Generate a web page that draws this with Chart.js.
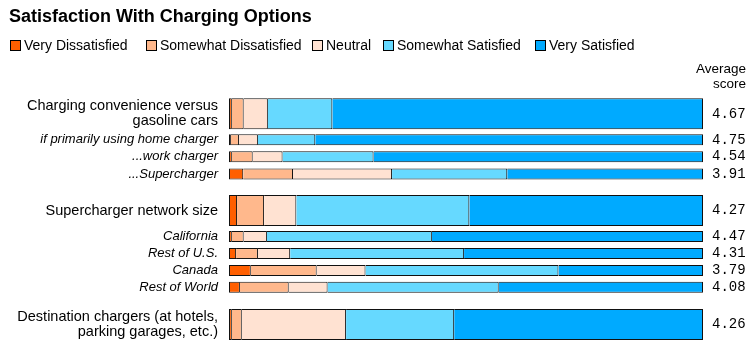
<!DOCTYPE html>
<html>
<head>
<meta charset="utf-8">
<script src="https://cdn.jsdelivr.net/npm/chart.js@4"></script>
<style>
  body{margin:0;background:#fff;font-family:"Liberation Sans",Arial,sans-serif;color:#000}
  #wrap{position:relative;width:752px;height:349px}
  canvas{position:absolute;left:0;top:0}
  .title{position:absolute;left:9px;top:7px;font-size:18px;font-weight:bold;line-height:18px;white-space:nowrap}
  .leg{position:absolute;top:38px;height:14px;display:flex;align-items:center;font-size:14px;line-height:14px;white-space:nowrap}
  .leg i{display:inline-block;width:9px;height:9px;border:1px solid #000;margin-right:3px}
  .avg{position:absolute;right:6px;top:61px;font-size:13.5px;line-height:15px;text-align:right}
</style>
</head>
<body>
<div id="wrap">
  <canvas id="chart" width="752" height="349"></canvas>
  <div class="title">Satisfaction With Charging Options</div>
  <div id="legend"></div>
  <div class="avg">Average<br>score</div>
</div>
<script>
const categories = [
  ['Charging convenience versus', 'gasoline cars'],
  'if primarily using home charger',
  '...work charger',
  '...Supercharger',
  'Supercharger network size',
  'California',
  'Rest of U.S.',
  'Canada',
  'Rest of World',
  ['Destination chargers (at hotels,', 'parking garages, etc.)']
];
// sub-rows (italic, thin bars) vs headline rows
const isBreakdown = [false, true, true, true, false, true, true, true, true, false];

const seriesNames = ['Very Dissatisfied', 'Somewhat Dissatisfied', 'Neutral', 'Somewhat Satisfied', 'Very Satisfied'];
const veryDissatisfied     = [0.6, 0.4, 0.6, 3.0, 1.7, 0.6, 1.5, 4.6, 2.3, 0.6];
const somewhatDissatisfied = [2.5, 1.7, 4.4, 10.5, 5.7, 2.5, 4.6, 13.9, 10.3, 2.1];
const neutral              = [5.1, 4.0, 6.3, 20.9, 6.8, 4.9, 6.8, 10.3, 8.2, 22.0];
const somewhatSatisfied    = [13.6, 12.1, 19.2, 24.3, 36.5, 34.8, 36.7, 40.7, 36.1, 22.8];
const verySatisfied        = [78.2, 81.8, 69.5, 41.3, 49.3, 57.2, 50.4, 30.5, 43.1, 52.5];
const averageScore = [4.67, 4.75, 4.54, 3.91, 4.27, 4.47, 4.31, 3.79, 4.08, 4.26];

// layout: vertical slot of each row (units of one sub-row pitch)
const rowSlot = [0, 1.53, 2.52, 3.54, 5.69, 7.22, 8.22, 9.22, 10.21, 12.39];
const colors = ['#ff5f00', '#ffb88c', '#ffe2d2', '#66d9ff', '#00aaff'];
const legendLeft = [10, 146, 312, 383, 535];
const FONT = '"Liberation Sans", Arial, sans-serif';

const series = [veryDissatisfied, somewhatDissatisfied, neutral, somewhatSatisfied, verySatisfied];

document.getElementById('legend').innerHTML = seriesNames.map((n, i) =>
  `<div class="leg" style="left:${legendLeft[i]}px"><i style="background:${colors[i]}"></i>${n}</div>`).join('');

const datasets = [];
[false, true].forEach(sub => {
  series.forEach((vals, k) => {
    datasets.push({
      label: seriesNames[k],
      data: vals.map((v, i) => ({x: v, y: rowSlot[i], sub: isBreakdown[i]})).filter(d => d.sub === sub),
      backgroundColor: colors[k],
      borderColor: '#111',
      borderWidth: {top: 1, bottom: 1, right: 1, left: k === 0 ? 1 : 0},
      borderSkipped: false,
      inflateAmount: 0,
      barThickness: sub ? 11 : 31,
      grouped: false,
      stack: sub ? 'sub' : 'main'
    });
  });
});

const rowTicks = s => { s.ticks = rowSlot.map(v => ({value: v})); };

new Chart(document.getElementById('chart'), {
  type: 'bar',
  data: {datasets},
  options: {
    indexAxis: 'y',
    responsive: false,
    animation: false,
    devicePixelRatio: 1,
    layout: {padding: {top: 90, left: 0, right: 0, bottom: 0}},
    plugins: {legend: {display: false}, title: {display: false}, tooltip: {enabled: false}},
    scales: {
      x: {type: 'linear', stacked: true, min: 0, max: 100, display: false},
      y: {
        type: 'linear', position: 'left', reverse: true, min: -1.4, max: 13.835, offset: false,
        grid: {display: false, drawTicks: false}, border: {display: false},
        afterBuildTicks: rowTicks,
        afterFit: s => { s.width = 229; s.paddingTop = 0; s.paddingBottom = 0; },
        ticks: {
          autoSkip: false, padding: 11, color: '#000',
          callback: (v, i) => categories[i],
          font: c => isBreakdown[c.index]
            ? {family: FONT, size: 13, style: 'italic'}
            : {family: FONT, size: 14.5, lineHeight: 1.02}
        }
      },
      y2: {
        type: 'linear', position: 'right', reverse: true, min: -1.4, max: 13.835, offset: false,
        grid: {display: false, drawTicks: false}, border: {display: false},
        afterBuildTicks: rowTicks,
        afterFit: s => { s.width = 49; s.paddingTop = 0; s.paddingBottom = 0; },
        ticks: {
          autoSkip: false, padding: 9, color: '#000',
          callback: (v, i) => averageScore[i].toFixed(2),
          font: {family: '"Liberation Mono", monospace', size: 14}
        }
      }
    }
  }
});
</script>
</body>
</html>
